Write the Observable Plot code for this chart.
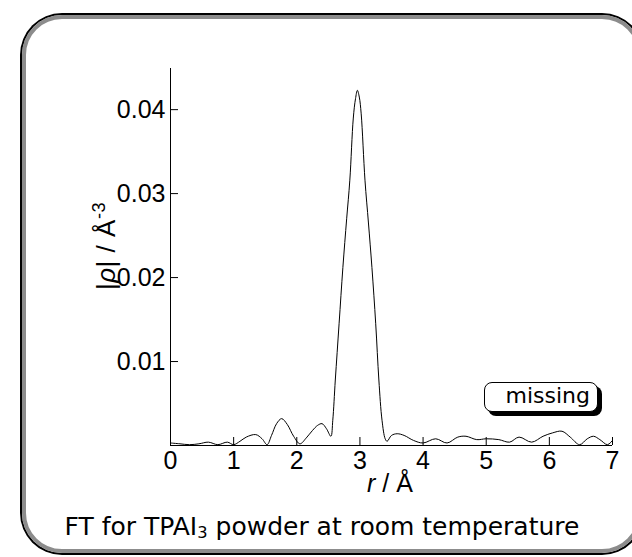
<!DOCTYPE html>
<html><head><meta charset="utf-8">
<script src="https://cdn.jsdelivr.net/npm/d3@7"></script>
<script src="https://cdn.jsdelivr.net/npm/@observablehq/plot@0.6"></script>
<style>
html,body{margin:0;padding:0;width:632px;height:557px;overflow:hidden;background:#fff;}
#frame{position:absolute;left:22px;top:15px;width:612px;height:530px;border:4px solid #8c8c8c;border-radius:40px;box-shadow:0 0 0 2px #000;box-sizing:content-box;}
#chart{position:absolute;left:0;top:0;}
#ylab{position:absolute;left:106px;top:246px;transform:translate(-50%,-50%) rotate(-90deg);font:26px "Liberation Sans",Arial,sans-serif;white-space:nowrap;line-height:1;letter-spacing:0.5px;}
#ylab sup{font-size:0.7em;vertical-align:0.55em;line-height:0;}
#xlab{position:absolute;left:390px;top:471px;transform:translateX(-50%);font:25px "Liberation Sans",Arial,sans-serif;white-space:nowrap;line-height:1;}
#missing{position:absolute;left:484px;top:382px;width:114px;height:30px;box-sizing:border-box;border:1.5px solid #000;border-radius:8px;box-shadow:4px 4px 0 #000;background:#fff;font:22px "DejaVu Sans",sans-serif;text-align:right;padding-right:7px;line-height:26px;}
#caption{position:absolute;left:322px;top:513px;transform:translateX(-50%);font:25px "DejaVu Sans",sans-serif;white-space:nowrap;line-height:1.1;}
#caption sub{font-size:0.65em;vertical-align:-0.2em;line-height:0;}
</style></head><body>
<div id="frame"></div>
<div id="chart"></div>
<div id="ylab">|<i>ρ</i>| / Å<sup>-3</sup></div>
<div id="xlab"><i>r</i> / Å</div>
<div id="missing">missing</div>
<div id="caption">FT for TPAI<sub>3</sub> powder at room temperature</div>
<script>
const rValues = [0, 0.15, 0.3, 0.45, 0.6, 0.75, 0.9, 1.0, 1.1, 1.2, 1.35, 1.45, 1.53, 1.6, 1.68, 1.76, 1.85, 1.95, 2.05, 2.15, 2.25, 2.33, 2.4, 2.47, 2.54,
  2.57, 2.61, 2.67, 2.73, 2.79, 2.84, 2.895, 2.93, 2.96, 2.99, 3.02, 3.08, 3.135, 3.19, 3.25, 3.30, 3.35, 3.40, 3.43,
  3.5, 3.59, 3.7, 3.85, 4.0, 4.2, 4.38, 4.55, 4.68, 4.85, 5.0, 5.2, 5.37, 5.52, 5.72, 5.9, 6.05, 6.2, 6.33, 6.48, 6.6, 6.7, 6.8, 6.92, 7.0];
const rhoValues = [0.0003, 0.0002, 0.0001, 0.0002, 0.0004, 0.0001, 0.0004, 0.0001, 0.0005, 0.0010, 0.0013, 0.0008, 0.0001, 0.0012, 0.0026, 0.0032, 0.0025, 0.0011, 0.0002, 0.0009, 0.0018, 0.0024, 0.0026, 0.0020, 0.0011,
  0.0030, 0.0078, 0.0145, 0.0212, 0.0270, 0.0316, 0.0390, 0.0413, 0.0423, 0.0415, 0.0395, 0.0316, 0.0265, 0.0212, 0.0145, 0.0078, 0.0030, 0.0008, 0.0005,
  0.0012, 0.0014, 0.0012, 0.0006, 0.0003, 0.0008, 0.0003, 0.0010, 0.0011, 0.0007, 0.0008, 0.0007, 0.0004, 0.0010, 0.0004, 0.0011, 0.0015, 0.0017, 0.0010, 0.0001, 0.0008, 0.0011, 0.0007, 0.0001, 0.0006];
const xTicks = [0, 1, 2, 3, 4, 5, 6, 7];
const yTicks = [0.01, 0.02, 0.03, 0.04];

const data = rValues.map((r, i) => ({r, rho: rhoValues[i]}));

const chart = Plot.plot({
  width: 632, height: 500,
  marginLeft: 170, marginRight: 20, marginTop: 68, marginBottom: 55,
  x: {domain: [0, 7]},
  y: {domain: [0, 0.0449]},
  style: {fontFamily: '"Liberation Sans", Arial, sans-serif', fontSize: "25px", background: "transparent", color: "#000", overflow: "visible"},
  marks: [
    Plot.ruleX([0], {stroke: "#000"}),
    Plot.ruleY([0], {stroke: "#000"}),
    Plot.axisX({ticks: xTicks, tickSize: -8, tickPadding: 14, label: null, tickFormat: d => String(d)}),
    Plot.axisY({ticks: yTicks, tickSize: -8, tickPadding: 13, label: null, tickFormat: d => String(d)}),
    Plot.line(data, {x: "r", y: "rho", curve: "catmull-rom", stroke: "#000", strokeWidth: 1})
  ]
});
document.getElementById("chart").appendChild(chart);
</script>
</body></html>
